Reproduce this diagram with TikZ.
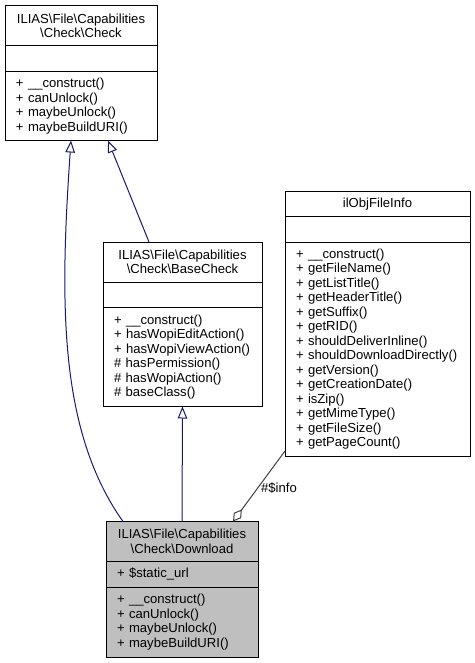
\documentclass[tikz,border=0pt]{standalone}
\usepackage{fontspec}
\setmainfont{Liberation Sans}
\usetikzlibrary{positioning,arrows.meta}
\definecolor{edgeblue}{HTML}{191970}
\definecolor{edgegrey}{HTML}{404040}
\definecolor{curgrey}{HTML}{BFBFBF}
\newcommand{\bs}{\textbackslash}
\newcommand{\umlfont}{\fontsize{13.1}{14.5}\selectfont\hyphenpenalty=10000\exhyphenpenalty=10000}
\tikzset{
  classpart/.style={draw=black, line width=1pt, fill=white, outer sep=0pt,
    inner xsep=11pt, inner ysep=0pt, font=\umlfont, anchor=north},
  titlepart/.style={classpart, align=center},
  memberpart/.style={classpart, align=left},
  extends/.style={draw=edgeblue, line width=1pt,
    -{Triangle[open, length=12pt, width=9.5pt, fill=white]}},
  aggregates/.style={draw=edgegrey, line width=1pt,
    -{Diamond[open, length=15pt, width=9pt, fill=white]}},
}
\begin{document}
\begin{tikzpicture}[x=1pt, y=-1pt]
        \useasboundingbox (0,0) rectangle (474,663);

        % Class Check
        \node[titlepart, text width=130pt, minimum height=40pt] (chkTitle) at (81,6) {ILIAS\bs File\bs Capabilities\\\bs Check\bs Check};
        \node[memberpart, text width=130pt, minimum height=25.5pt, below=0pt of chkTitle] (chkAttr) {};
        \node[memberpart, text width=130pt, minimum height=69pt, below=0pt of chkAttr] (chkMeth) {+~\_\_construct()\\+~canUnlock()\\+~maybeUnlock()\\+~maybeBuildURI()};

        % Class BaseCheck
        \node[titlepart, text width=137pt, minimum height=40pt] (bcTitle) at (182.5,242) {ILIAS\bs File\bs Capabilities\\\bs Check\bs BaseCheck};
        \node[memberpart, text width=137pt, minimum height=25.5pt, below=0pt of bcTitle] (bcAttr) {};
        \node[memberpart, text width=137pt, minimum height=99pt, below=0pt of bcAttr] (bcMeth) {+~\_\_construct()\\+~hasWopiEditAction()\\+~hasWopiViewAction()\\\#~hasPermission()\\\#~hasWopiAction()\\\#~baseClass()};

        % Class ilObjFileInfo
        \node[titlepart, text width=163pt, minimum height=25.5pt] (infoTitle) at (377.5,191) {ilObjFileInfo};
        \node[memberpart, text width=163pt, minimum height=25.5pt, below=0pt of infoTitle] (infoAttr) {};
        \node[memberpart, text width=163pt, minimum height=214pt, below=0pt of infoAttr] (infoMeth) {+~\_\_construct()\\+~getFileName()\\+~getListTitle()\\+~getHeaderTitle()\\+~getSuffix()\\+~getRID()\\+~shouldDeliverInline()\\+~shouldDownloadDirectly()\\+~getVersion()\\+~getCreationDate()\\+~isZip()\\+~getMimeType()\\+~getFileSize()\\+~getPageCount()};

        % Class Download (the one documented)
        \node[titlepart, fill=curgrey, text width=130pt, minimum height=40pt] (dlTitle) at (182,521.5) {ILIAS\bs File\bs Capabilities\\\bs Check\bs Download};
        \node[memberpart, fill=curgrey, text width=130pt, minimum height=25.5pt, below=0pt of dlTitle] (dlAttr) {+~\$static\_url};
        \node[memberpart, fill=curgrey, text width=130pt, minimum height=70pt, below=0pt of dlAttr] (dlMeth) {+~\_\_construct()\\+~canUnlock()\\+~maybeUnlock()\\+~maybeBuildURI()};

        % Inheritance
        \draw[extends] ([xshift=46pt]bcTitle.north west) -- ([xshift=103pt]chkMeth.south west);
        \draw[extends] (dlTitle.north) -- (bcMeth.south);
        \draw[extends] ([xshift=17pt]dlTitle.north west) .. controls (58,430) and (60,300) .. ([xshift=66pt]chkMeth.south west);

        % Aggregation
        \draw[aggregates] ([yshift=5pt]infoMeth.south west) -- ([xshift=127pt]dlTitle.north west);
        \node[font=\umlfont] (infoLabel) at (279,488) {\#\$info};
    \end{tikzpicture}
\end{document}
